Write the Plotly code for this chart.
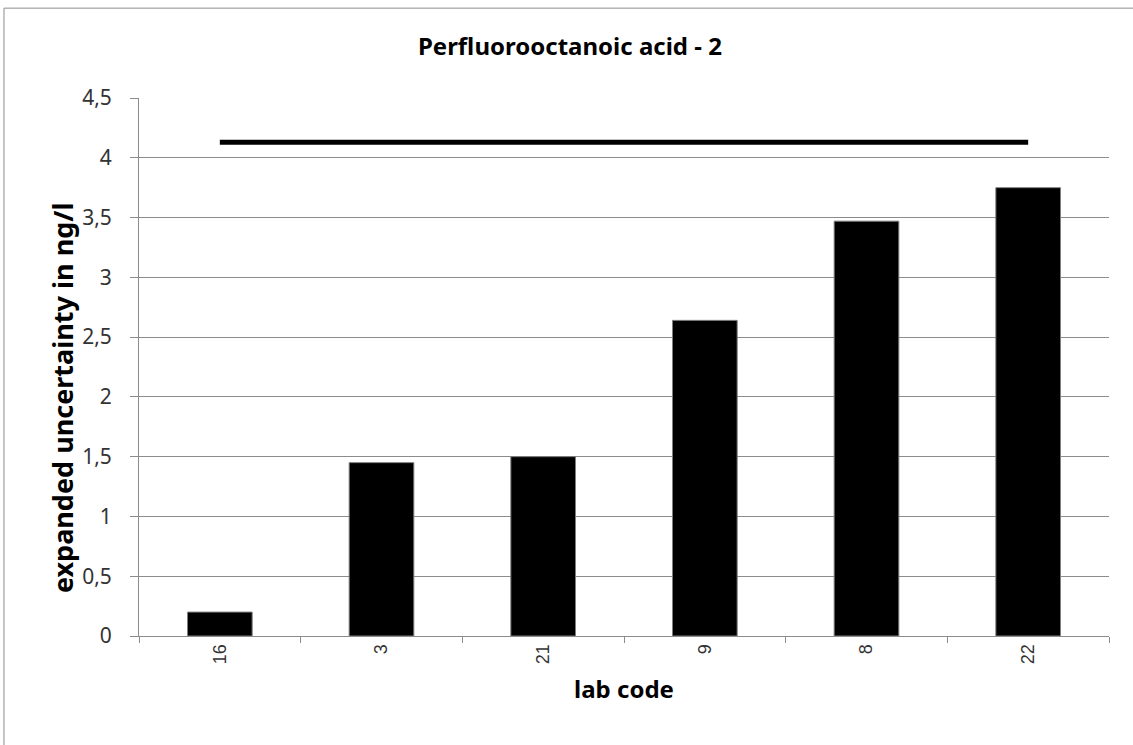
import plotly.graph_objects as go

lab_codes = ["16", "3", "21", "9", "8", "22"]
uncertainty = [0.2, 1.45, 1.5, 2.64, 3.47, 3.75]
limit_value = 4.13

fig = go.Figure()
fig.add_trace(go.Bar(x=lab_codes, y=uncertainty, width=0.4,
                     marker=dict(color="black", line=dict(color="#7f7f7f", width=1)),
                     showlegend=False))
fig.add_trace(go.Scatter(x=[lab_codes[0], lab_codes[-1]], y=[limit_value, limit_value],
                         mode="lines", line=dict(color="black", width=5),
                         showlegend=False))

fig.update_layout(
    width=1133, height=745,
    margin=dict(l=139, r=24, t=98, b=109),
    paper_bgcolor="white", plot_bgcolor="white",
    separators=",.",
    title=dict(text="<b>Perfluorooctanoic acid - 2</b>", x=0.503, xanchor="center",
               y=0.937, yanchor="middle",
               font=dict(family="Noto Sans", size=24, color="black")),
    xaxis=dict(type="category", tickson="boundaries", ticks="outside", ticklen=6,
               tickcolor="#8c8c8c", showline=True, linecolor="#8c8c8c", linewidth=1,
               tickangle=-90, showgrid=False,
               tickfont=dict(family="Liberation Sans", size=18, color="#333333"),
               title=dict(text="<b>lab code</b>", standoff=17,
                          font=dict(family="Noto Sans", size=24, color="black"))),
    yaxis=dict(range=[0, 4.5], dtick=0.5, ticks="outside", ticklen=8,
               tickcolor="#8c8c8c", showline=True, linecolor="#8c8c8c", linewidth=1,
               showgrid=True, gridcolor="#8c8c8c", gridwidth=1, zeroline=False,
               ticklabelstandoff=14,
               tickfont=dict(family="Noto Sans", size=21, color="#333333")),
    annotations=[dict(text="<b>expanded uncertainty in ng/l</b>", textangle=-90,
                      xref="paper", yref="paper", x=-0.0794, y=0.444,
                      xanchor="center", yanchor="middle", showarrow=False,
                      font=dict(family="Noto Sans", size=27, color="black"))],
    shapes=[dict(type="rect", xref="paper", yref="paper",
                 x0=-0.1392, x1=1.05, y0=-0.25, y1=1.167,
                 line=dict(color="#8c8c8c", width=1))],
)

# drop the page's default body margin so the figure sits at the window corner
fig.write_html("out.html", config={"displayModeBar": False},
               post_script="document.body.style.margin='0px';")
